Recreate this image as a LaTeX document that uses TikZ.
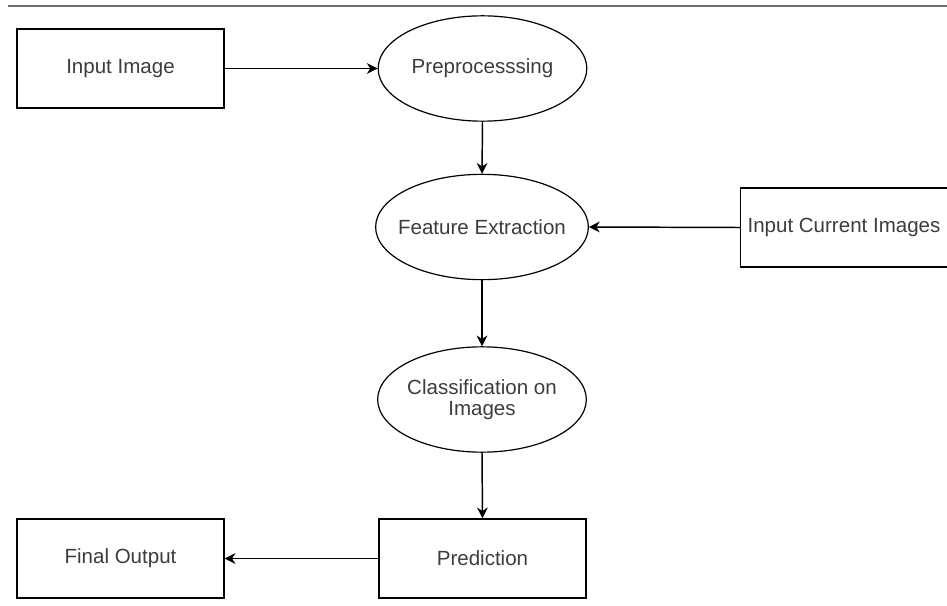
\documentclass[tikz,border=0pt]{standalone}
\usepackage{fontspec}
\setmainfont{Liberation Sans}
\usetikzlibrary{shapes.geometric,arrows.meta}

\definecolor{txtgray}{RGB}{60,60,60}
\definecolor{rulegray}{RGB}{110,110,110}

\tikzset{
	every node/.style={font=\fontsize{15.4}{15.5}\selectfont, text=txtgray},
	procbox/.style={draw=black, line width=1.1pt, rectangle, minimum width=155.25pt, minimum height=59.25pt, inner sep=0pt},
	procoval/.style={draw=black, line width=0.9pt, ellipse, minimum width=156.5pt, minimum height=79pt, inner xsep=-6.5pt, inner ysep=0pt, align=center},
	flow/.style={line width=1.1pt, -{Stealth[length=8pt, width=8pt, inset=2.5pt]}}
}

\begin{document}
\begin{tikzpicture}[x=0.75pt,y=0.75pt,yscale=-1,xscale=1]
	\useasboundingbox (0,0) rectangle (947,606);

	%Straight Lines [top rule]
	\draw [color=rulegray, line width=1.5pt]  (8,6) -- (947,6) ;

	% Boxes
	\node [procbox] (inimg) at (120.5,68.5) {Input Image};
	\node [procbox] (incur) at (844,227.5) {Input Current Images};
	\node [procbox] (pred) at (482.5,558.5) {Prediction};
	\node [procbox] (final) at (120.5,558.5) {Final Output};

	% Ellipses
	\node [procoval] (prep) at (482.5,68.5) {Preprocesssing};
	\node [procoval] (feat) at (482,227) {Feature Extraction};
	\node [procoval] (clas) at (482,399.5) {Classification on\\Images};

	% Connectors
	\draw [flow] (inimg.east) -- (prep.west) ;
	\draw [flow] (prep.south) -- (feat.north) ;
	\draw [flow] (incur.west) -- (feat.east) ;
	\draw [flow] (feat.south) -- (clas.north) ;
	\draw [flow] (clas.south) -- (pred.north) ;
	\draw [flow] (pred.west) -- (final.east) ;

\end{tikzpicture}
\end{document}
